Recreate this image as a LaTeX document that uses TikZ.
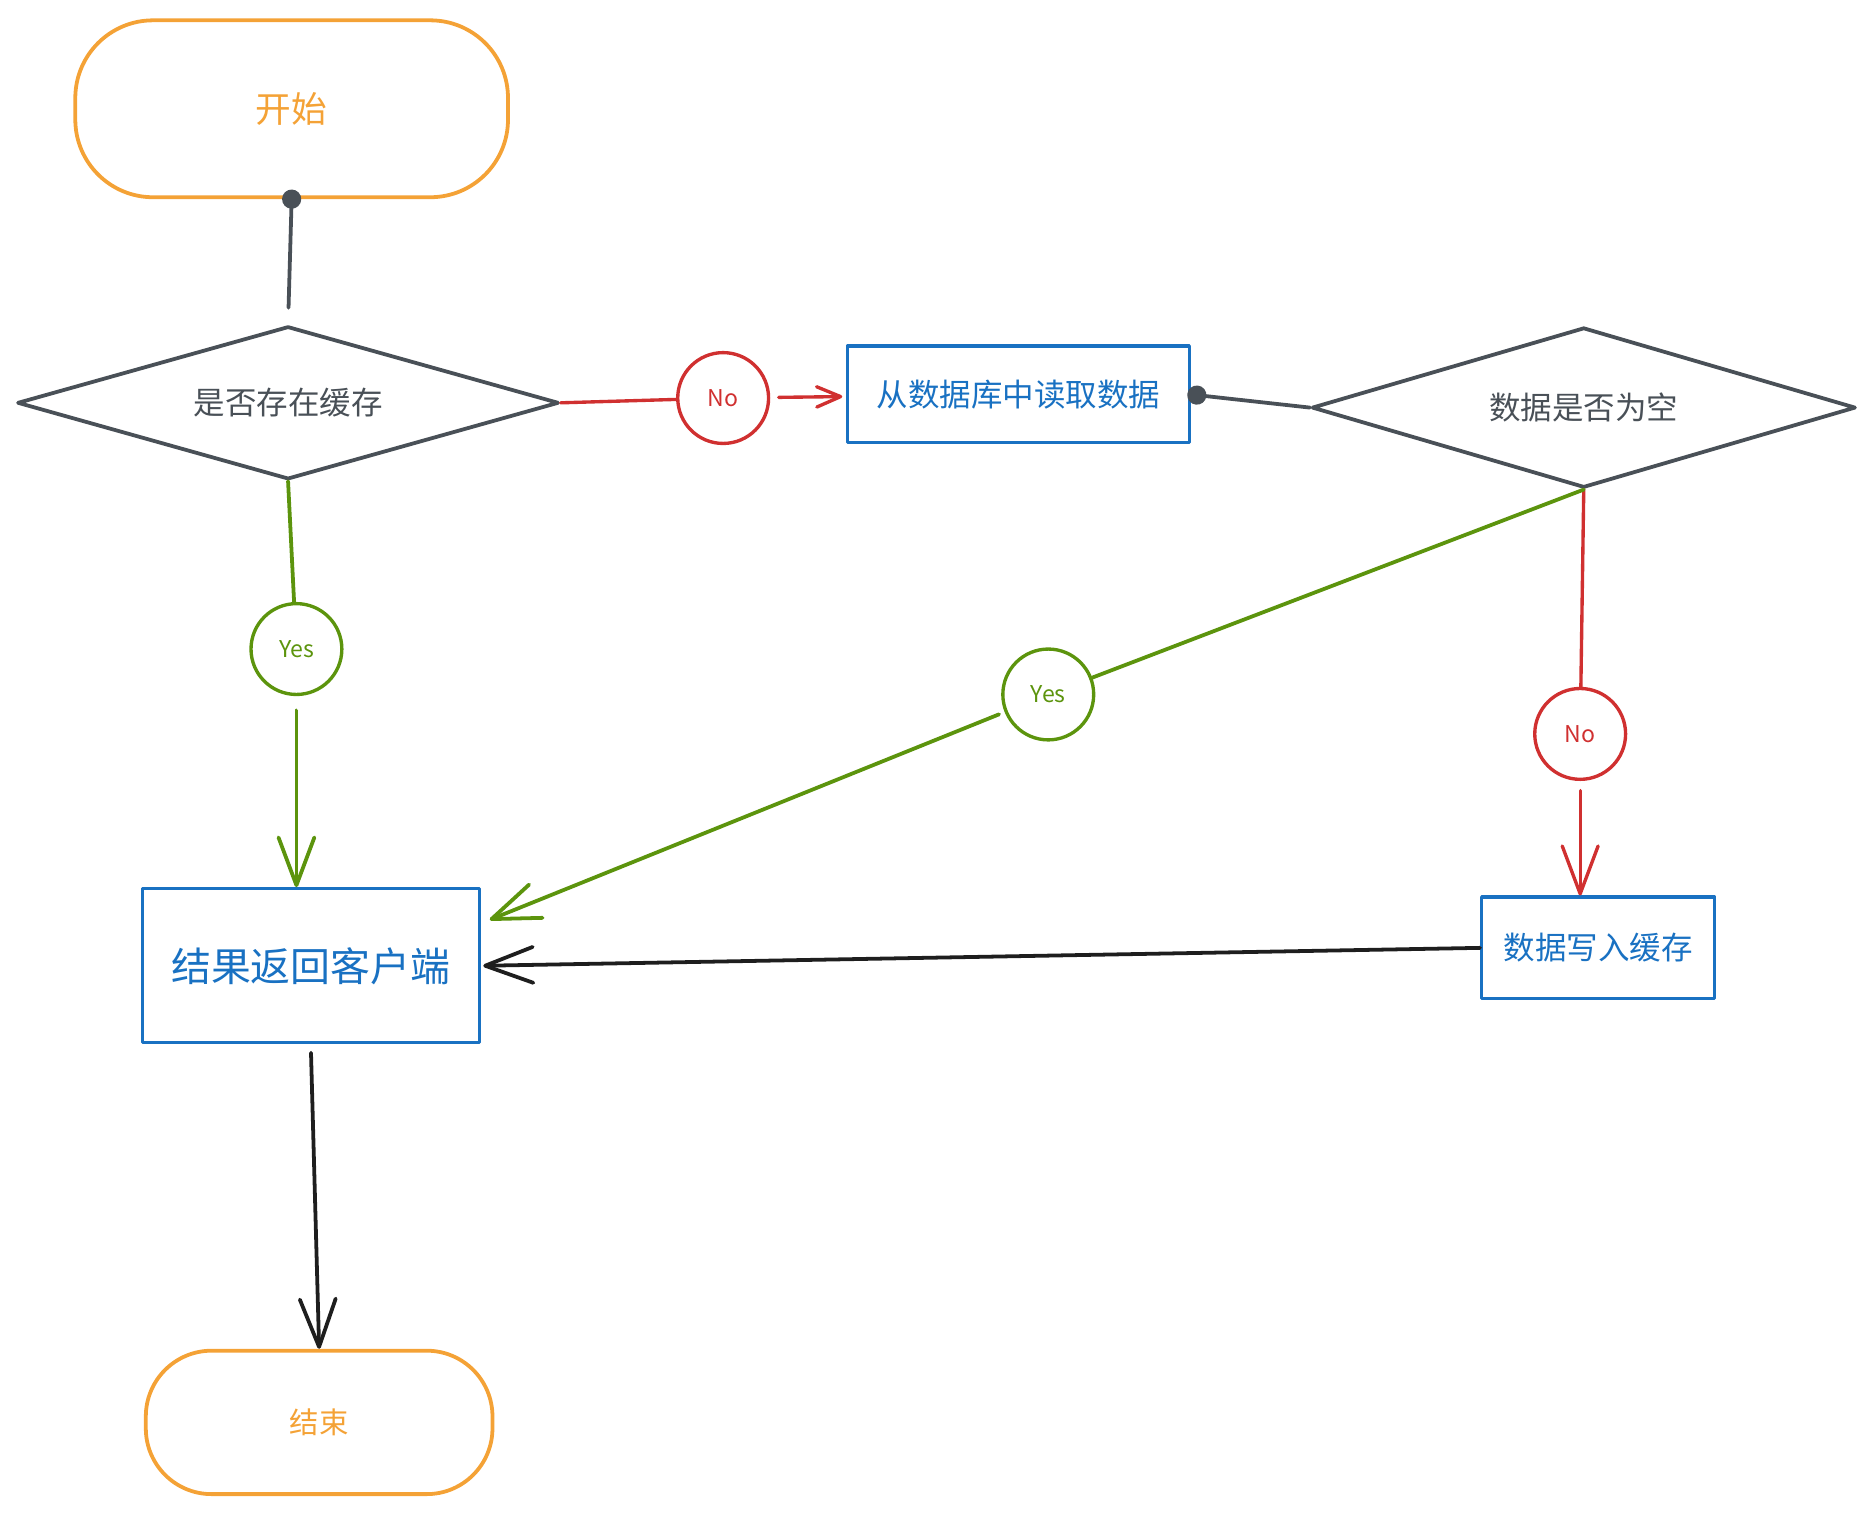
\documentclass[tikz,border=0pt]{standalone}
\usepackage{fontspec}
\newfontfamily\cjk{Noto Sans CJK SC}
\usetikzlibrary{shapes.geometric,arrows.meta}
\definecolor{termorange}{HTML}{F4A236}
\definecolor{procblue}{HTML}{1971C2}
\definecolor{decgray}{HTML}{495057}
\definecolor{yesgreen}{HTML}{5C940D}
\definecolor{nored}{HTML}{D03030}
\definecolor{flowblack}{HTML}{1E1E1E}
\tikzset{
  terminal/.style={draw=termorange,line width=1.8pt,text=termorange},
  decision/.style={diamond,draw=decgray,line width=1.8pt,inner sep=0pt,text=decgray,
    font=\cjk\fontsize{15}{18}\selectfont},
  process/.style={draw=procblue,line width=1.5pt,text=procblue},
  yesmark/.style={circle,draw=yesgreen,line width=1.6pt,minimum size=15.2mm,text=yesgreen,
    font=\cjk\fontsize{11}{13}\selectfont},
  nomark/.style={circle,draw=nored,line width=1.6pt,minimum size=15.2mm,text=nored,
    font=\cjk\fontsize{11}{13}\selectfont},
  bigtip/.style={-{Straight Barb[length=8mm,width=6mm,round]}},
  smalltip/.style={-{Straight Barb[length=4mm,width=3.4mm,round]}},
  dottip/.style={{Circle[length=3.2mm]}-}
}
\begin{document}
\begin{tikzpicture}[x=0.2mm,y=-0.2mm,line cap=round,line join=round]
  \useasboundingbox (0,0) rectangle (1567,1267);
  \draw
    (244,91) node[terminal,rounded corners=13mm,minimum width=72.4mm,minimum height=29.6mm,
      font=\cjk\fontsize{17}{20}\selectfont] (start){开始}
    (241,337) node[decision,aspect=3.54,minimum width=90.6mm,minimum height=25.6mm] (check){是否存在缓存}
    (852,330) node[process,minimum width=57.2mm,minimum height=16.2mm,
      font=\cjk\fontsize{15}{18}\selectfont] (readdb){从数据库中读取数据}
    (1325,341) node[decision,aspect=3.4,minimum width=91mm,minimum height=26.8mm] (empty){数据是否为空}
    (1337,793) node[process,minimum width=39mm,minimum height=17mm,
      font=\cjk\fontsize{15}{18}\selectfont] (write){数据写入缓存}
    (260,808) node[process,minimum width=56.4mm,minimum height=25.8mm,
      font=\cjk\fontsize{19}{22}\selectfont] (result){结果返回客户端}
    (267,1190) node[terminal,rounded corners=11mm,minimum width=58mm,minimum height=24mm,
      font=\cjk\fontsize{14}{17}\selectfont] (stop){结束}
    (605,333) node[nomark] (no1){No}
    (248,543) node[yesmark] (yes1){Yes}
    (877,581) node[yesmark] (yes2){Yes}
    (1322,614) node[nomark] (no2){No};
  \begin{scope}[draw=decgray,line width=1.8pt]
    \draw[dottip,shorten <=-1.6mm,shorten >=2.8mm] (start.south) to (check.north);
    \draw[dottip,shorten <=-0.6mm] (readdb.east) to (empty.west);
  \end{scope}
  \begin{scope}[draw=nored,line width=1.6pt]
    \draw (check.east) to (no1);
    \draw[smalltip,shorten <=1.4mm,shorten >=0.6mm] (no1) to (readdb);
    \draw (empty.south) to (no2);
    \draw[bigtip,shorten <=1.6mm] (no2) to (no2 |- write.north);
  \end{scope}
  \begin{scope}[draw=yesgreen,line width=1.8pt]
    \draw (check.south) to (yes1);
    \draw[bigtip,shorten <=2.4mm] (yes1) to (yes1 |- result.north);
    \draw (empty.south) to (yes2);
    \draw[bigtip,shorten <=1mm,shorten >=1.6mm] (yes2) to (result.14);
  \end{scope}
  \begin{scope}[draw=flowblack,line width=1.8pt]
    \draw[bigtip,shorten >=0.4mm] (write.west) to (result.east);
    \draw[bigtip,shorten <=1.4mm] (result.south) to (stop.north);
  \end{scope}
\end{tikzpicture}
\end{document}
